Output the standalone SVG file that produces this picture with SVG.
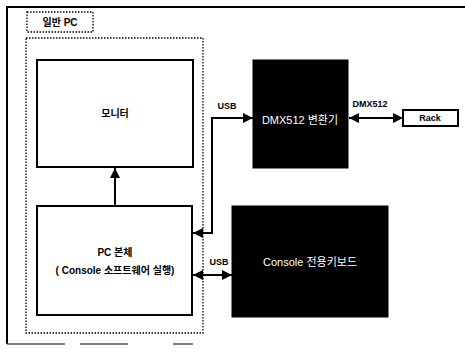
<svg xmlns="http://www.w3.org/2000/svg" width="465" height="354" viewBox="0 0 465 354">
<style>
.t{font-family:"Liberation Sans","Noto Sans CJK KR",sans-serif;font-weight:bold;fill:#000;text-anchor:middle;dominant-baseline:central}
.w{font-family:"Liberation Sans","Noto Sans CJK KR",sans-serif;fill:#fff;text-anchor:middle;dominant-baseline:central}
.box{fill:#fff;stroke:#000;stroke-width:2}
.blk{fill:#000;stroke:#000;stroke-width:1}
.dot{fill:none;stroke:#000;stroke-width:1.3;stroke-dasharray:1.5 1.5}
.ln{fill:none;stroke:#000;stroke-width:2}
</style>
<defs>
<marker id="ah" viewBox="0 0 10 10" refX="10" refY="5" markerWidth="5" markerHeight="5" orient="auto-start-reverse">
<path d="M0,0 L10,5 L0,10 z" fill="#000"/>
</marker>
</defs>
<g id="frame">
<path d="M465,7 H7 V344" fill="none" stroke="#000" stroke-width="2"/>
<path d="M7,344 H65 M80,344 H128 M173,344 H193" fill="none" stroke="#555" stroke-width="1.5"/>
</g>
<g id="pc-group">
<rect class="dot" x="26" y="38" width="177" height="295"/>
<rect class="dot" x="27" y="12" width="66" height="20"/>
<text class="t" x="60" y="22" font-size="10">일반 PC</text>
</g>
<g id="monitor">
<rect class="box" x="37" y="60" width="156" height="107"/>
<text class="t" x="115" y="113" font-size="10">모니터</text>
</g>
<g id="pc-body">
<rect class="box" x="37" y="206" width="155" height="109"/>
<text class="t" x="115" y="252" font-size="10">PC 본체</text>
<text class="t" x="115" y="270" font-size="10">( Console 소프트웨어 실행)</text>
</g>
<g id="dmx">
<rect class="blk" x="253" y="60" width="95" height="108"/>
<text class="w" x="300" y="120" font-size="11">DMX512 변환기</text>
</g>
<g id="rack">
<rect class="box" x="403" y="110" width="55" height="16"/>
<text class="t" x="430" y="118" font-size="9">Rack</text>
</g>
<g id="keyboard">
<rect class="blk" x="232" y="206" width="156" height="111"/>
<text class="w" x="310" y="262" font-size="11">Console 전용키보드</text>
</g>
<g id="connectors">
<path class="ln" d="M115,206 V168" marker-end="url(#ah)"/>
<path class="ln" d="M193,233 H212 V118 H253" marker-start="url(#ah)" marker-end="url(#ah)"/>
<path class="ln" d="M193,275 H232" marker-start="url(#ah)" marker-end="url(#ah)"/>
<path class="ln" d="M349,118 H403" marker-start="url(#ah)" marker-end="url(#ah)"/>
<text class="t" x="227" y="106" font-size="9">USB</text>
<text class="t" x="219" y="262" font-size="9">USB</text>
<text class="t" x="370" y="104" font-size="9">DMX512</text>
</g>
</svg>
